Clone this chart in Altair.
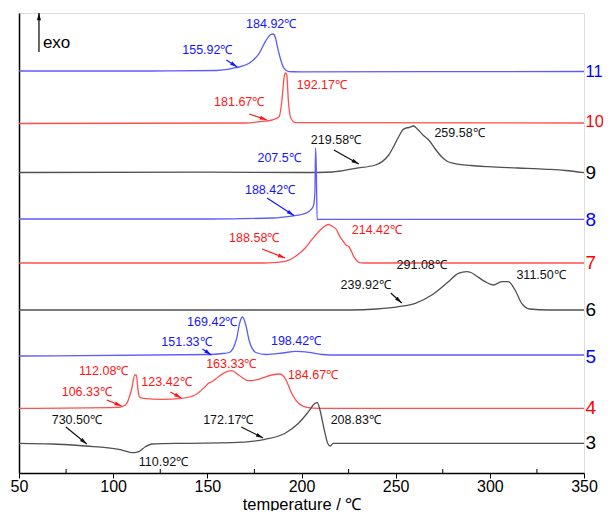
import math
import altair as alt
import pandas as pd

# ---- curve data: temperature (°C) and stacked signal height (arbitrary units) ----
s11_T = [50, 120, 155, 165.2, 172.2, 177.5, 181.1, 183.7, 184.9, 186.2, 187.2, 189, 190.7, 193.4, 200, 350]
s11_h = [402, 402, 402.5, 405.3, 409.7, 419.7, 432.3, 438.5, 439, 435, 426.3, 413, 404.7, 401.3, 401.2, 401.5]

s10_T = [50, 170, 177.5, 184.6, 188.1, 189.8, 190.7, 191.5, 192.2, 193, 194.3, 196.9, 350]
s10_h = [349.5, 350, 351.3, 353, 356.3, 376.3, 395, 400, 398, 373, 355, 350.3, 350]

s9_T = [50, 150, 200, 216.4, 228.7, 239.3, 246.3, 251.6, 253.7, 255.1, 257, 259.5, 261.5, 264.5, 268, 271,
        274.4, 277.5, 280.7, 290, 299.2, 315, 330.4, 340, 350]
s9_h = [300.5, 300.8, 300.5, 301, 304.7, 308, 318, 336.3, 343, 344.7, 345.5, 347, 344, 338, 332, 324,
        316.3, 311.5, 309.7, 307.5, 306.3, 305, 303.7, 302.5, 300.3]

s8_T = [50, 150, 185, 195, 200, 204, 206.3, 207.1, 207.5, 207.9, 208.3, 210, 350]
s8_h = [254, 254, 255, 257, 258.5, 261.5, 267, 280, 325, 300, 253.5, 253.7, 253.7]

s7_T = [50, 180, 185, 192.5, 197.8, 202, 206, 210, 212.5, 214.4, 216.5, 218.5, 220.4, 222, 223.6, 225.2,
        227.8, 229.5, 230.8, 233, 350]
s7_h = [210, 210, 210.3, 212.3, 218, 225, 234.7, 243, 247, 248.5, 246.5, 243.5, 236.3, 232, 228, 226.3,
        216.3, 212, 210.3, 210, 210]

s6_T = [50, 225.4, 240, 251.6, 260.4, 269.2, 278, 283.3, 287.7, 290, 292.2, 297.5, 301.9, 306.3, 309.8,
        313.4, 316.9, 321.3, 331, 350]
s6_h = [163, 163, 164, 166.3, 169.7, 178, 191.3, 199.7, 201.3, 200.5, 198, 191.3, 188, 191.3, 191.3,
        183, 169.7, 164, 163, 163]

s5_T = [50, 151, 158.1, 161.6, 165.5, 167.3, 168.7, 170.5, 172.2, 175.8, 181.1, 190, 197, 204, 211, 220, 350]
s5_h = [117, 118.5, 119.5, 120.5, 134, 151, 156, 147.5, 132.5, 120.5, 118.5, 120, 121.7, 120.7, 118.5, 118, 118]

s4_T = [50, 103, 106.5, 109.7, 111.5, 112.3, 113.2, 113.9, 116.2, 125.9, 136.5, 143.5, 148.8, 150.6, 152.4,
        155.9, 160.4, 163, 166.6, 171.9, 177.2, 184.2, 188.6, 191.3, 194.8, 198.4, 203.7, 208.9, 350]
s4_h = [64.7, 65.7, 68, 83, 98, 98, 83, 76.3, 74.7, 73.7, 74.7, 78, 86.3, 89.7, 91.3,
        96.3, 101.3, 102.3, 98, 92.3, 93.7, 98, 99, 94.7, 79.7, 69.7, 65.3, 64.7, 64.7]

s3_T = [50, 67.6, 85.3, 103, 110.9, 113.6, 117.1, 120.6, 138.3, 163, 180.6, 191.3, 198.4, 203.7, 207.2, 208.4,
        209.8, 212.1, 213.9, 215.2, 216.9, 261.7, 350]
s3_h = [29.7, 29, 27, 23.7, 20.3, 21.3, 26.3, 29, 29.7, 30.3, 33.7, 39.7, 49.7, 61.3, 69.7, 70.3,
        63, 43, 29.7, 27, 29.7, 29.7, 29.7]

series_names = ["11", "10", "9", "8", "7", "6", "5", "4", "3"]
series_T = [s11_T, s10_T, s9_T, s8_T, s7_T, s6_T, s5_T, s4_T, s3_T]
series_h = [s11_h, s10_h, s9_h, s8_h, s7_h, s6_h, s5_h, s4_h, s3_h]
series_kind = ["blue", "red", "black", "blue", "red", "black", "blue", "red", "black"]
label_h = [401, 351, 300, 253, 210, 163, 116, 65, 30]

line_colors = {"blue": "#5b5bff", "red": "#ff4f4f", "black": "#505050"}
text_colors = {"blue": "#1414ff", "red": "#ff1414", "black": "#111111"}
label_colors = {"blue": "#0000ff", "red": "#ff0000", "black": "#000000"}

# ---- annotations ----
ann_text = ["184.92℃", "155.92℃", "192.17℃", "181.67℃", "219.58℃", "259.58℃", "207.5℃", "188.42℃",
            "214.42℃", "188.58℃", "291.08℃", "311.50℃", "239.92℃", "169.42℃", "151.33℃", "198.42℃",
            "112.08℃", "106.33℃", "123.42℃", "163.33℃", "184.67℃", "730.50℃", "110.92℃", "172.17℃",
            "208.83℃"]
ann_T = [183.9, 150.0, 210.8, 166.9, 218.3, 283.9, 188.1, 183.3,
         240.0, 174.9, 263.8, 327.2, 234.1, 152.6, 138.9, 197.1,
         95.0, 86.0, 128.3, 162.7, 206.1, 80.7, 126.7, 161.1,
         228.8]
ann_h = [449, 423, 388, 371, 333, 340, 315, 283,
         243, 235, 208, 198, 188, 151, 131, 132,
         102, 81, 91, 109, 98, 53, 11, 53,
         53]
ann_kind = ["blue", "blue", "red", "red", "black", "black", "blue", "blue",
            "red", "red", "black", "black", "black", "blue", "blue", "blue",
            "red", "red", "red", "red", "red", "black", "black", "black",
            "black"]

arr_T1 = [160.1, 172.2, 217.2, 181.7, 179.1, 247.4, 147.4, 96.6, 130.4, 74.9, 168.0]
arr_h1 = [413, 359, 323, 275, 224, 180, 124, 73, 81, 46, 46]
arr_T2 = [165.9, 181.7, 230.4, 196.0, 191.3, 253.2, 152.1, 104.5, 136.2, 86.0, 179.6]
arr_h2 = [406, 353, 309, 257.5, 215, 170, 118, 67, 75, 29, 35]
arr_kind = ["blue", "red", "black", "blue", "red", "black", "blue", "red", "red", "black", "black"]

exo_T = [60.6, 60.6]
exo_h = [421, 460]

minor_ticks = [75, 125, 175, 225, 275, 325]

W, H = 565, 460
XD = [50, 350]
YD = [0, 460]
px_per_T = W / (XD[1] - XD[0])
px_per_h = H / (YD[1] - YD[0])

# ---- build tables ----
rows = []
for name, Ts, hs, kind in zip(series_names, series_T, series_h, series_kind):
    for i, (t, h) in enumerate(zip(Ts, hs)):
        rows.append({"series": name, "T": t, "h": h, "order": i, "color": line_colors[kind]})
curves = pd.DataFrame(rows)

labels = pd.DataFrame({"series": series_names, "T": [350] * 9, "h": label_h,
                       "color": [label_colors[k] for k in series_kind],
                       "fs": [16.5 if len(n) > 1 else 19 for n in series_names]})
ann = pd.DataFrame({"text": ann_text, "T": ann_T, "h": ann_h,
                    "color": [text_colors[k] for k in ann_kind]})


def angle(t1, h1, t2, h2):
    dx = (t2 - t1) * px_per_T
    dy = -(h2 - h1) * px_per_h
    return math.degrees(math.atan2(dx, -dy)) % 360


arrows = pd.DataFrame({"T1": arr_T1, "h1": arr_h1, "T2": arr_T2, "h2": arr_h2,
                       "color": [text_colors[k] for k in arr_kind]})
arrows["angle"] = [angle(a, b, c, d) for a, b, c, d in zip(arr_T1, arr_h1, arr_T2, arr_h2)]
exo = pd.DataFrame({"T1": [exo_T[0]], "h1": [exo_h[0]], "T2": [exo_T[1]], "h2": [exo_h[1]],
                    "color": ["#000000"], "angle": [0.0]})
minor = pd.DataFrame({"T": minor_ticks})

FONT = "Liberation Sans, Arial, sans-serif"
xscale = alt.Scale(domain=XD, nice=False, zero=False)
yscale = alt.Scale(domain=YD, nice=False, zero=False)

xaxis = alt.Axis(values=[50, 100, 150, 200, 250, 300, 350], title="temperature / ℃",
                 labelFontSize=16, titleFontSize=16.5, labelFont=FONT, titleFont=FONT,
                 titleFontWeight="normal", labelColor="#000", titleColor="#000",
                 domainColor="#000", domainWidth=1.5, tickColor="#000", tickSize=5, tickWidth=1,
                 labelPadding=0, titleY=31, titleBaseline="middle", grid=False, labelFlush=False)
yaxis = alt.Axis(title=None, labels=False, ticks=False, grid=False, domainColor="#000", domainWidth=1.5)

base = alt.Chart(curves)
lines = base.mark_line(strokeWidth=1.3, interpolate="monotone").encode(
    x=alt.X("T:Q", scale=xscale, axis=xaxis),
    y=alt.Y("h:Q", scale=yscale, axis=yaxis),
    detail="series:N",
    order="order:Q",
    color=alt.Color("color:N", scale=None),
)

minor_layer = alt.Chart(minor).mark_rule(color="#000", strokeWidth=1).encode(
    x=alt.X("T:Q", scale=xscale), y=alt.value(H), y2=alt.value(H - 4))

label_layer = alt.Chart(labels).mark_text(align="left", baseline="middle", dx=1.5,
                                          font=FONT).encode(
    x=alt.X("T:Q", scale=xscale), y=alt.Y("h:Q", scale=yscale), text="series:N",
    size=alt.Size("fs:Q", scale=None),
    color=alt.Color("color:N", scale=None))

ann_layer = alt.Chart(ann).mark_text(align="center", baseline="middle", fontSize=12.5,
                                     font=FONT).encode(
    x=alt.X("T:Q", scale=xscale), y=alt.Y("h:Q", scale=yscale), text="text:N",
    color=alt.Color("color:N", scale=None))

arrow_df = pd.concat([arrows, exo], ignore_index=True)
shafts = alt.Chart(arrow_df).mark_rule(strokeWidth=1.2).encode(
    x=alt.X("T1:Q", scale=xscale), y=alt.Y("h1:Q", scale=yscale),
    x2="T2:Q", y2="h2:Q", color=alt.Color("color:N", scale=None))
heads = alt.Chart(arrow_df).mark_point(shape="M0,0L0.5,1.8L-0.5,1.8Z", filled=True, size=64,
                                       opacity=1, strokeWidth=0).encode(
    x=alt.X("T2:Q", scale=xscale), y=alt.Y("h2:Q", scale=yscale),
    angle=alt.Angle("angle:Q", scale=None), color=alt.Color("color:N", scale=None))

exo_text = alt.Chart(pd.DataFrame({"T": [62.7], "h": [430], "t": ["exo"]})).mark_text(
    align="left", baseline="middle", fontSize=17, font=FONT, color="#000").encode(
    x=alt.X("T:Q", scale=xscale), y=alt.Y("h:Q", scale=yscale), text="t:N")

chart = alt.layer(lines, minor_layer, shafts, heads, ann_layer, label_layer, exo_text).properties(
    width=W, height=H,
    autosize=alt.AutoSizeParams(type="none"),
    padding={"left": 11, "top": 5, "right": 19, "bottom": 38},
).configure_view(stroke=None).configure(background="white")

chart.save("out.html", embed_options={"renderer": "svg", "actions": False})
